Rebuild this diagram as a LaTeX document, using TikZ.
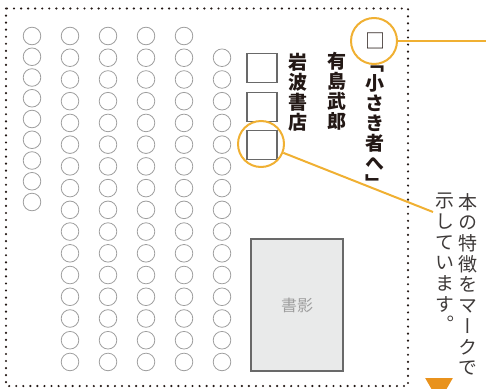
\documentclass[tikz,border=0pt]{standalone}
\usepackage{fontspec}
\newfontfamily\jpfont[RawFeature={+vert}]{Noto Sans CJK JP}
\usetikzlibrary{shapes.geometric}
\definecolor{markorange}{RGB}{240,176,50}
\definecolor{tipOrange}{RGB}{233,146,28}
\definecolor{inkblack}{RGB}{35,24,21}
\definecolor{notegray}{RGB}{62,58,57}
\definecolor{seatgray}{RGB}{158,158,158}
\definecolor{boxgray}{RGB}{105,105,105}
\definecolor{coverfill}{RGB}{233,234,234}

\tikzset{
  seat/.style={circle, draw=seatgray, line width=0.8pt, minimum size=17.6pt, inner sep=0pt},
  markbox/.style={draw=boxgray, line width=1.5pt, minimum width=30pt, minimum height=29pt, inner sep=0pt},
  ring/.style={circle, draw=markorange, line width=2pt, minimum size=46pt, inner sep=0pt},
  leader/.style={draw=markorange, line width=2pt},
  tate/.style={align=center, inner sep=0pt, anchor=north, text=inkblack, font=\jpfont\bfseries\fontsize{19}{20}\selectfont},
  notetext/.style={align=center, inner sep=0pt, anchor=north, text=notegray, font=\jpfont\fontsize{19}{20.7}\selectfont},
  frame/.style={draw=inkblack, line width=2.4pt, line cap=round, dash pattern=on 0pt off 7.05pt}
}

\begin{document}
\begin{tikzpicture}[x=1pt, y=-1pt]
    \useasboundingbox (0,0) rectangle (486,388);

    % Dotted frame of the page
    \draw[frame] (6,8.5) rectangle (408,386);

    % Seats of circles
    \foreach \r in {0,...,8}
        \node[seat] (c1-\r) at (32, 36+20.75*\r) {};
    \foreach \c in {2,...,5}
        \foreach \r in {0,...,15}
            \node[seat] (c\c-\r) at (32+38*\c-38, 36+21.73*\r) {};
    \foreach \r in {1,...,15}
        \node[seat] (c6-\r) at (222, 36+21.73*\r) {};

    % Three empty boxes
    \foreach \i/\y in {1/68, 2/107, 3/145}
        \node[markbox] (box\i) at (262,\y) {};

    % Vertical titles
    \node[tate] (publisher) at (298,53) {岩\\波\\書\\店};
    \node[tate] (author) at (337,52) {有\\島\\武\\郎};
    \node[tate] (title) at (375,33) {{\mdseries\fontsize{20}{20}\selectfont □}\\[2pt]「\\小\\さ\\き\\者\\へ\\」};

    % Book cover
    \node[draw=boxgray, fill=coverfill, line width=1.3pt, minimum width=92pt, minimum height=132pt,
          text=seatgray, font=\jpfont\fontsize{16}{16}\selectfont] (cover) at (297,305) {書影};

    % Orange marks and their leaders
    \node[ring] (ring1) at (374,41) {};
    \node[ring] (ring2) at (261,144) {};
    \coordinate (lead1) at (486,41);
    \coordinate (lead2) at (433,212);
    \draw[leader] (ring1) -- (lead1);
    \draw[leader] (ring2) -- (lead2);

    % Note on the right
    \node[notetext] (note1) at (468,193) {本\\の\\特\\徴\\を\\マ\\ー\\ク\\で};
    \node[notetext] (note2) at (445,193) {示\\し\\て\\い\\ま\\す\\。};

    % Pointer at the bottom
    \node[regular polygon, regular polygon sides=3, shape border rotate=180, fill=tipOrange,
          minimum size=32pt, inner sep=0pt] (pointer) at (439,386) {};
\end{tikzpicture}
\end{document}
